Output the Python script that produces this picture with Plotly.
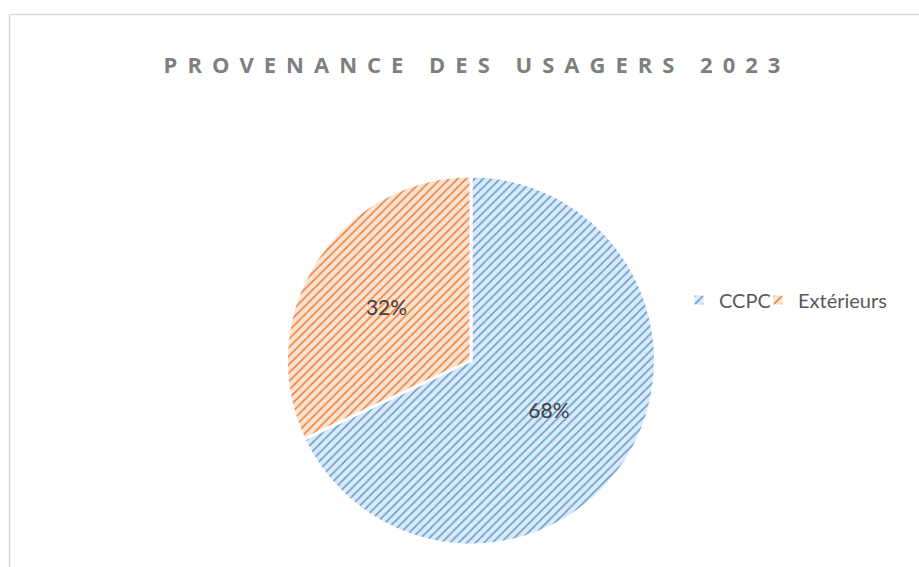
import plotly.graph_objects as go

categories = ["CCPC", "Extérieurs"]
values = [68, 32]
title_text = "PROVENANCE DES USAGERS 2023"

bg_colors = ["#DCE9F6", "#FBE3D3"]
fg_colors = ["#5B9BD5", "#ED7D31"]

W, H = 919, 567

fig = go.Figure(go.Pie(
    labels=categories,
    values=values,
    sort=False,
    direction="clockwise",
    rotation=0,
    texttemplate="%{percent:.0%}",
    textposition="inside",
    insidetextorientation="horizontal",
    textfont=dict(family="Lato", size=21, color="#404040"),
    marker=dict(
        colors=bg_colors,
        line=dict(color="white", width=3),
        pattern=dict(shape="/", fgcolor=fg_colors, bgcolor=bg_colors,
                     size=6, solidity=0.25, fillmode="replace"),
    ),
    domain=dict(x=[286/W, 656/W], y=[1-545/H, 1-176/H]),
    hoverinfo="label+percent",
))

fig.update_layout(
    width=W, height=H,
    margin=dict(l=0, r=0, t=0, b=0),
    paper_bgcolor="white",
    plot_bgcolor="white",
    title=dict(text="<b>" + title_text + "</b>", x=477/W, xanchor="center",
               y=1-65/H, yanchor="middle",
               font=dict(family="Open Sans", size=22, color="#7F7F7F")),
    legend=dict(orientation="h", x=679/W, xanchor="left", y=1-300/H, yanchor="middle",
                font=dict(family="Lato", size=20, color="#595959"),
                itemwidth=30, entrywidth=34, entrywidthmode="pixels"),
    showlegend=True,
    shapes=[
        dict(type="line", xref="paper", yref="paper", x0=9.5/W, x1=1, y0=1-14.5/H, y1=1-14.5/H,
             line=dict(color="#D9D9D9", width=1.5)),
        dict(type="line", xref="paper", yref="paper", x0=9.5/W, x1=9.5/W, y0=0, y1=1-14.5/H,
             line=dict(color="#D9D9D9", width=1.5)),
    ],
)

post = """
var s=document.createElement('style');
s.textContent='body{margin:0;} .gtitle{letter-spacing:10px;} .legend .scrollbox{clip-path:none !important;}';
document.head.appendChild(s);
"""

fig.write_html("out.html", post_script=post, config={"displayModeBar": False})
